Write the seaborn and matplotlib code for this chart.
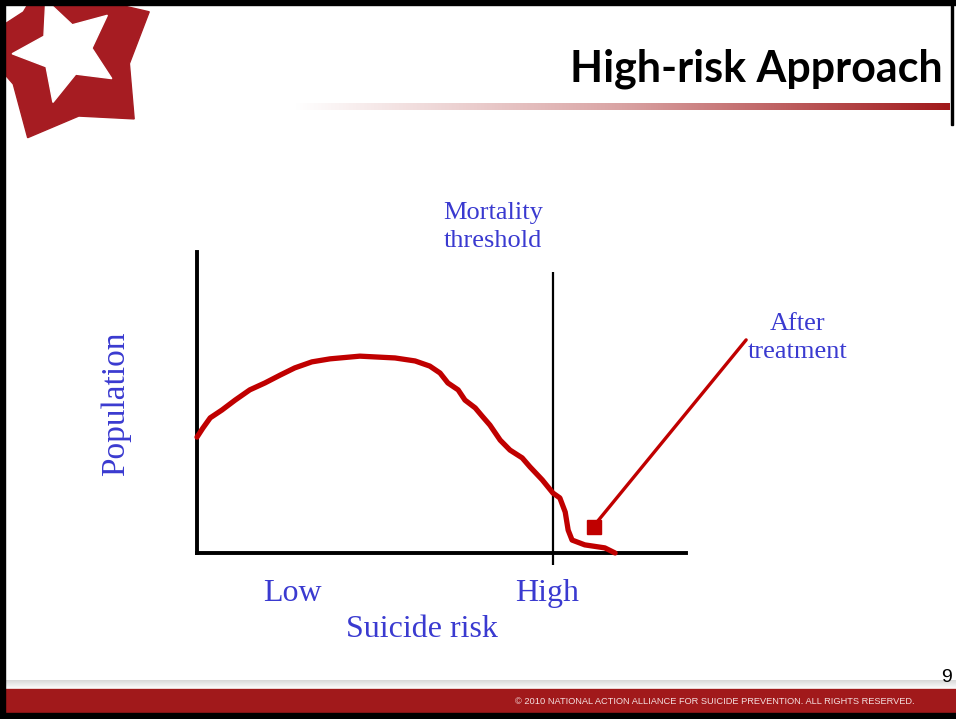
import numpy as np
import pandas as pd
import seaborn as sns
import matplotlib.pyplot as plt
from matplotlib.patches import Polygon, Rectangle
from matplotlib.colors import LinearSegmentedColormap

# Chart data (risk on x, population on y, both in 0-100 units)
risk = [0, 1.2, 2.7, 5.1, 7.8, 10.8, 13.9, 17.0, 20.0, 23.5, 27.2, 33.3, 40.5,
        44.6, 47.6, 49.7, 51.3, 53.4, 54.8, 56.9, 58.3, 59.9, 62.0, 64.0, 66.5,
        68.1, 70.6, 72.8, 74.2, 75.3, 75.9, 76.7, 79.3, 83.4, 85.5]
population = [38.5, 41.5, 44.9, 47.5, 50.8, 54.2, 56.5, 59.1, 61.5, 63.5, 64.5,
              65.4, 64.8, 63.8, 62.1, 59.8, 56.5, 54.2, 50.8, 48.2, 45.5, 42.5,
              37.5, 34.2, 31.6, 28.6, 24.3, 19.9, 18.3, 13.6, 7.6, 4.3, 2.7, 1.7, 0]
threshold_x = 72.8
threshold_span = [-4, 93.4]
arrow_x = [112.3, 81.8]
arrow_y = [70.8, 10.3]
marker_x = [81.2]
marker_y = [8.6]
tick_labels = ['Low', 'High']
tick_pos = [19.5, 71.5]

RED = '#c00000'
BLUE = '#3a3ad0'
DARK_RED = '#a1191b'

sns.set_theme(style='white')
plt.rcParams['font.family'] = ['Liberation Serif', 'DejaVu Serif']

fig = plt.figure(figsize=(9.56, 7.19), dpi=100)

# background / slide decoration in pixel coordinates
bg = fig.add_axes([0, 0, 1, 1])
bg.set_xlim(0, 956)
bg.set_ylim(719, 0)
bg.axis('off')


def star(cx, cy, r_out, r_in, rot):
    pts = []
    for i in range(10):
        r = r_out if i % 2 == 0 else r_in
        a = np.deg2rad(rot + i * 36)
        pts.append((cx + r * np.cos(a), cy + r * np.sin(a)))
    return pts


# logo
bg.add_patch(Polygon(star(68, 55, 92, 62, -100), closed=True, color='#a61c22'))
bg.add_patch(Polygon(star(66, 50, 54, 26, -112), closed=True, color='white'))

# title gradient bar
grad = np.linspace(0, 1, 256).reshape(1, -1)
cmap = LinearSegmentedColormap.from_list('g', ['#ffffff', '#d9a3a3', DARK_RED])
bg.imshow(grad, cmap=cmap, extent=[295, 950, 110, 103], aspect='auto', zorder=1)

# footer shadow + bar
shade = np.linspace(0, 1, 64).reshape(-1, 1)
cmap2 = LinearSegmentedColormap.from_list('s', ['#ffffff', '#d8d8d8'])
bg.imshow(shade, cmap=cmap2, extent=[0, 956, 680, 689], aspect='auto', zorder=1)
bg.add_patch(Rectangle((0, 689), 956, 24, color=DARK_RED, zorder=2))
bg.add_patch(Rectangle((0, 713), 956, 6, color='black', zorder=2))

# slide border
bg.add_patch(Rectangle((0, 0), 956, 5, color='black', zorder=3))
bg.add_patch(Rectangle((0, 0), 5, 719, color='black', zorder=3))
bg.add_patch(Rectangle((951, 0), 2, 125, color='black', zorder=3))
bg.set_xlim(0, 956)
bg.set_ylim(719, 0)

fig.text(943 / 956, 1 - 69 / 719, 'High-risk Approach', ha='right', va='center',
         fontsize=31, fontweight='bold', color='black', family=['Lato', 'DejaVu Sans'])
fig.text(952 / 956, 1 - 677 / 719, '9', ha='right', va='center', fontsize=14,
         color='black', family=['Liberation Sans', 'DejaVu Sans'])
fig.text(915 / 956, 1 - 702 / 719,
         '\u00a9 2010 NATIONAL ACTION ALLIANCE FOR SUICIDE PREVENTION. ALL RIGHTS RESERVED.',
         ha='right', va='center', fontsize=6.65, color='#f3dede',
         family=['Liberation Sans Narrow', 'Liberation Sans', 'DejaVu Sans'])

# main chart
ax = fig.add_axes([197 / 956, 1 - 553 / 719, 489 / 956, 301 / 719])
ax.patch.set_alpha(0)
df = pd.DataFrame({'risk': risk, 'population': population})
sns.lineplot(data=df, x='risk', y='population', sort=False, estimator=None,
             color=RED, lw=3.8, ax=ax, clip_on=False, zorder=3)
ax.vlines(threshold_x, threshold_span[0], threshold_span[1], color='black',
          lw=1.6, clip_on=False, zorder=2)
ax.plot(arrow_x, arrow_y, color=RED, lw=2.4, clip_on=False, zorder=3)
ax.plot(marker_x, marker_y, marker='s', ms=10, color=RED, clip_on=False, zorder=3)

ax.set_xlim(0, 100)
ax.set_ylim(0, 100)
for s in ['top', 'right']:
    ax.spines[s].set_visible(False)
for s in ['left', 'bottom']:
    ax.spines[s].set_color('black')
    ax.spines[s].set_linewidth(2.8)
ax.set_xticks([])
ax.set_yticks([])
ax.set_xlabel('')
ax.set_ylabel('')

for pos, lab in zip(tick_pos, tick_labels):
    ax.text(pos, -13.5, lab, ha='center', va='center', fontsize=23, color=BLUE)
ax.text(46, -25.5, 'Suicide risk', ha='center', va='center', fontsize=23, color=BLUE)
ax.text(-16.5, 49.5, 'Population', ha='center', va='center', fontsize=24,
        color=BLUE, rotation=90)
ax.text(60.5, 108.3, 'Mortality\nthreshold', ha='center', va='center',
        multialignment='center', fontsize=19, color=BLUE, linespacing=1.33)
ax.text(122.9, 71.5, 'After\ntreatment', ha='center', va='center',
        multialignment='center', fontsize=19, color=BLUE, linespacing=1.33)

fig.savefig('out.png', dpi=100)
